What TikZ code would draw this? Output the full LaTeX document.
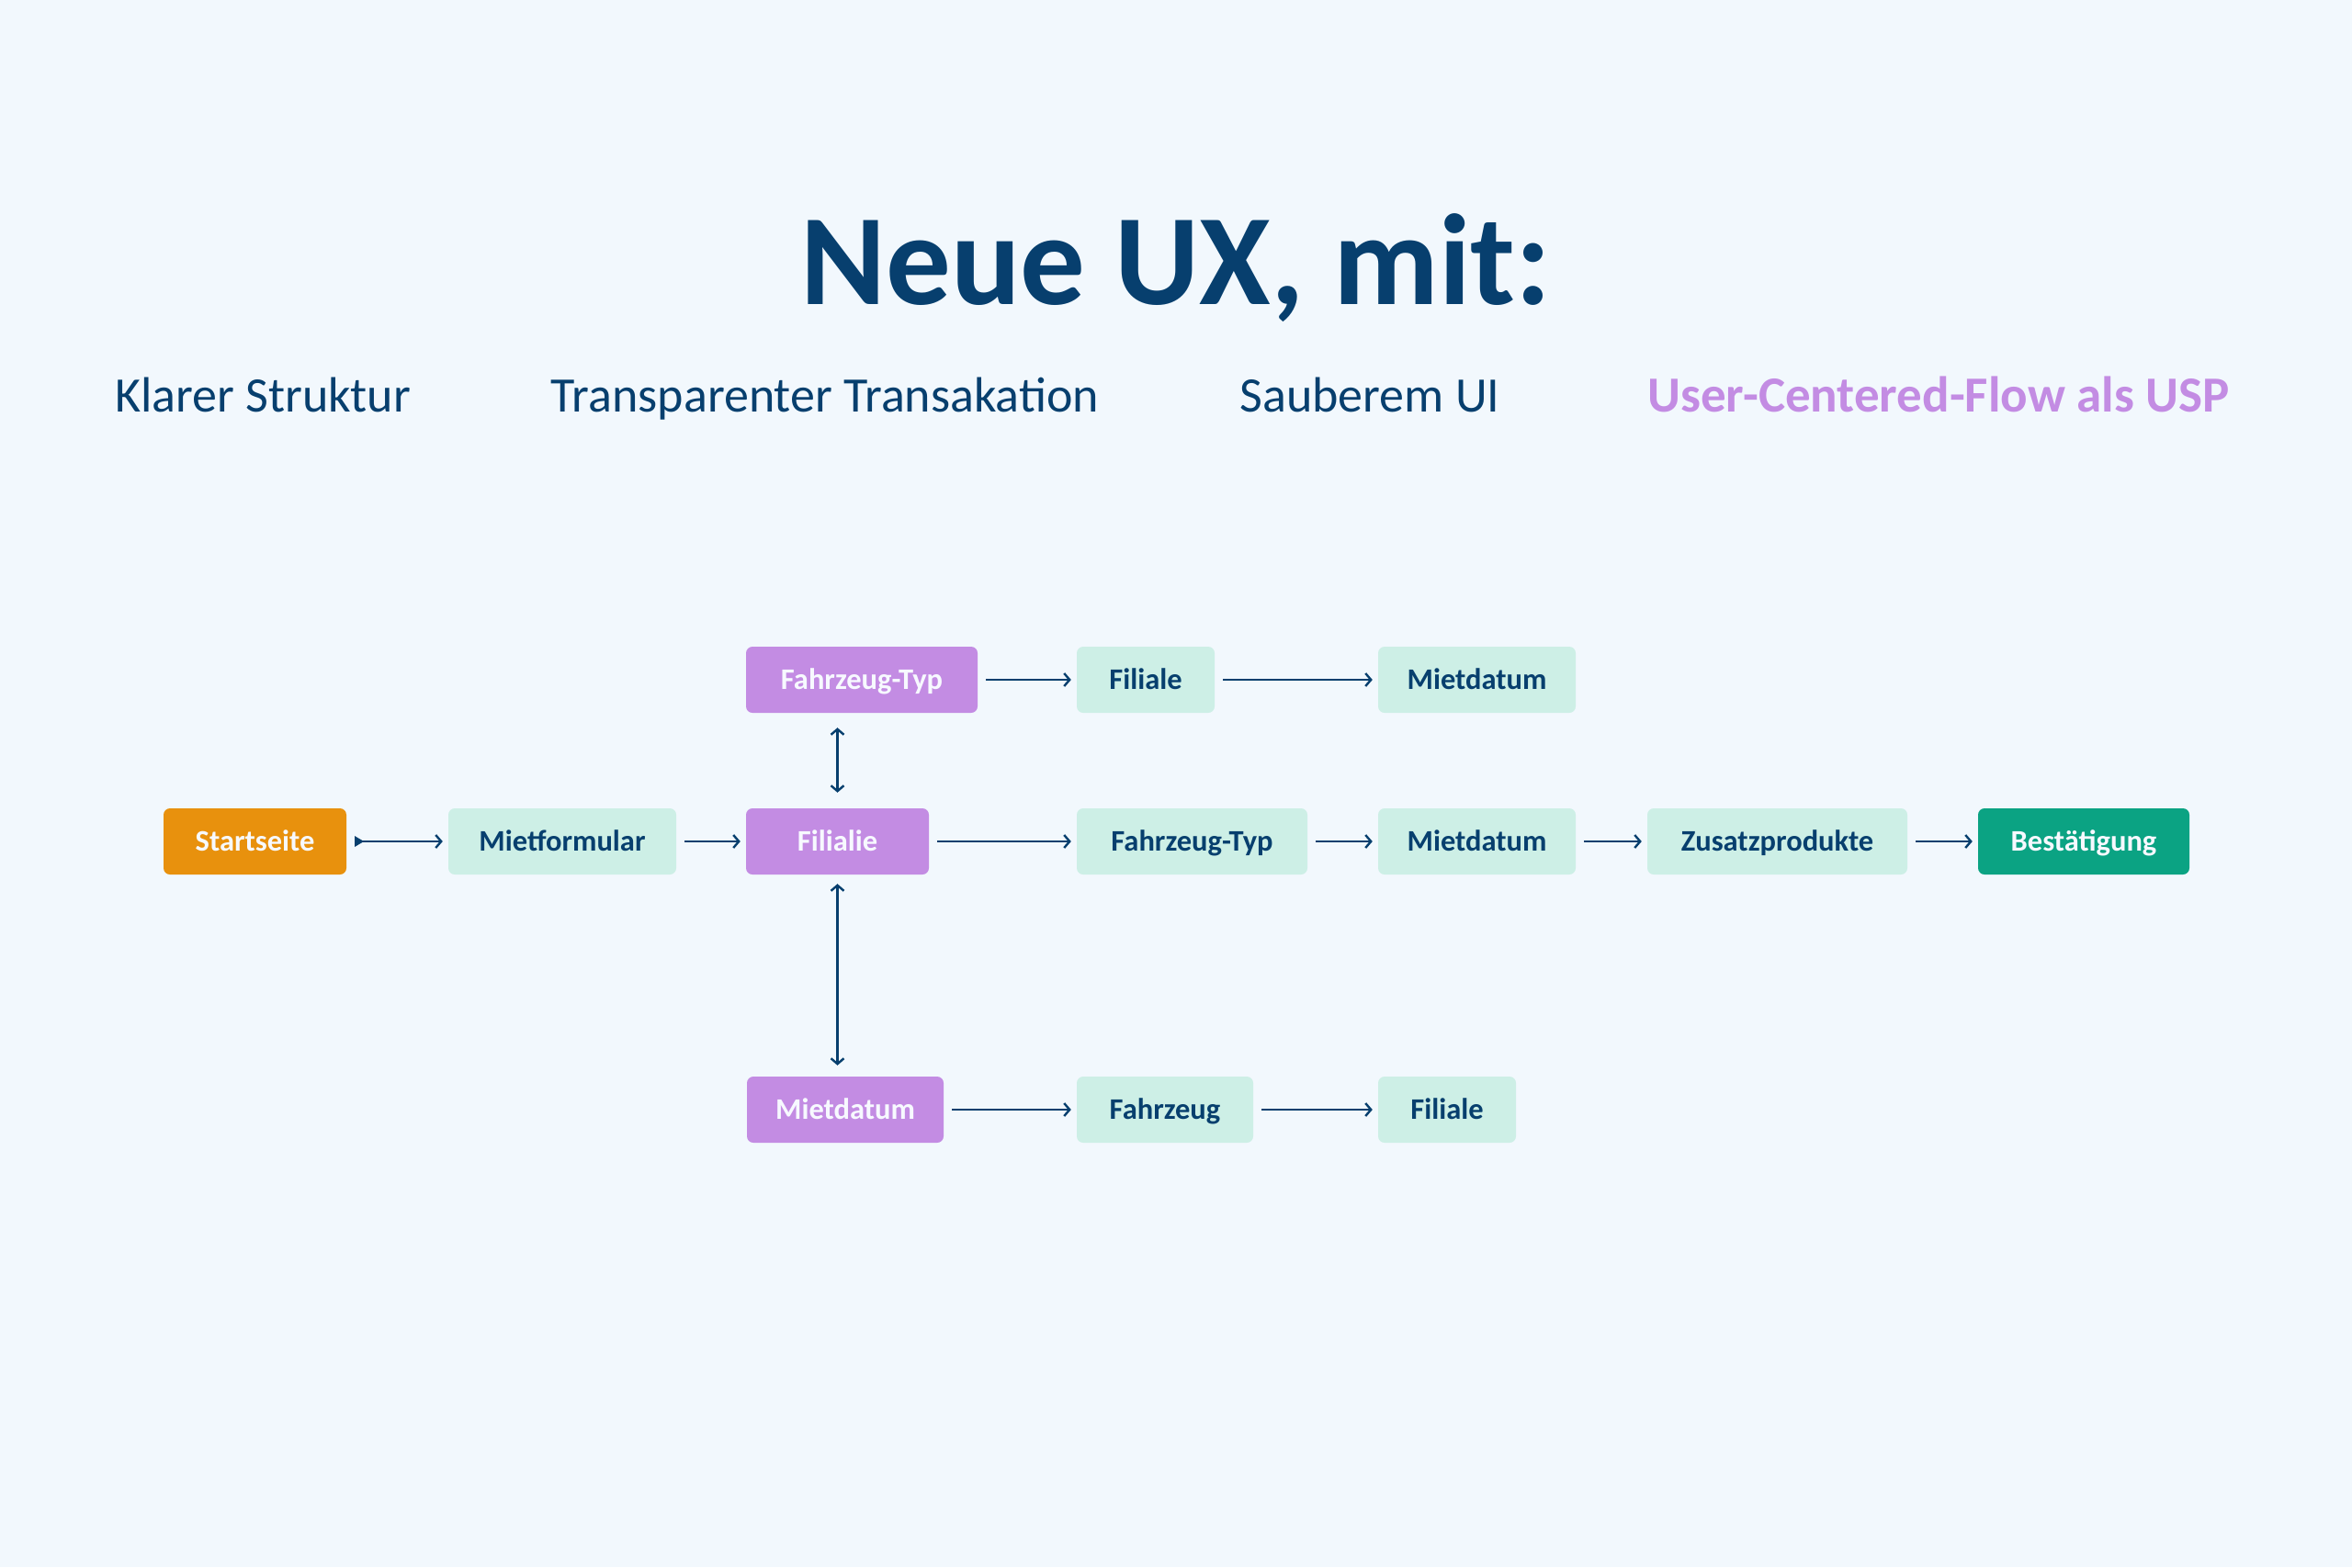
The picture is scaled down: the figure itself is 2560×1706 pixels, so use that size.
\documentclass[tikz,border=0pt]{standalone}
\usepackage{fontspec}
\setmainfont{Carlito}
\usetikzlibrary{arrows.meta}
\definecolor{bgc}{HTML}{F2F8FD}
\definecolor{mint}{HTML}{CDEFE6}
\definecolor{lilac}{HTML}{C38CE3}
\definecolor{amber}{HTML}{E8910D}
\definecolor{teal}{HTML}{0BA383}
\definecolor{navy}{HTML}{073F6E}
\definecolor{offwhite}{HTML}{F7F9FF}
\begin{document}
\begin{tikzpicture}[x=1pt,y=-1pt,
  box/.style={rounded corners=7pt, minimum height=72pt, inner sep=0pt, align=center,
    text height=21pt, text depth=0pt,
    font=\fontsize{32.5}{38}\selectfont\bfseries},
  mintbox/.style={box, fill=mint, text=navy},
  lilacbox/.style={box, fill=lilac, text=offwhite},
  amberbox/.style={box, fill=amber, text=offwhite},
  tealbox/.style={box, fill=teal, text=offwhite},
  flow/.style={draw=navy, line width=2.4pt, -{Straight Barb[length=6pt,width=14pt]},
    shorten <=9pt, shorten >=6pt},
  dflow/.style={draw=navy, line width=2.4pt,
    {Straight Barb[length=6pt,width=14pt]}-{Straight Barb[length=6pt,width=14pt]}},
  sub/.style={anchor=base, text=navy, font=\fontsize{54}{64}\selectfont}
]
\fill[bgc] (0,0) rectangle (2560,1706);
\useasboundingbox (0,0) rectangle (2560,1706);

% title
\node[anchor=base, text=navy, font=\fontsize{141}{160}\selectfont\bfseries] (title) at (1280,331) {Neue UX, mit:};
\node[sub] (s1) at (286,448) {Klarer Struktur};
\node[sub] (s2) at (898,448) {Transparenter Transakation};
\node[sub] (s3) at (1491,448) {Sauberem UI};
\node[sub, text=lilac, font=\fontsize{55}{64}\selectfont\bfseries] (s4) at (2110,448) {User-Centered-Flow als USP};

% middle row
\node[amberbox, minimum width=199pt] (start) at (277.5,916) {Startseite};
\node[mintbox, minimum width=248pt] (mf) at (612,916) {Mietformular};
\node[lilacbox, minimum width=199pt] (fil) at (911.5,916) {Filialie};
\node[mintbox, minimum width=251pt] (ft2) at (1297.5,916) {Fahrzeug-Typ};
\node[mintbox, minimum width=215pt] (md2) at (1607.5,916) {Mietdatum};
\node[mintbox, minimum width=283pt] (zp) at (1934.5,916) {Zusatzprodukte};
\node[tealbox, minimum width=230pt] (best) at (2268,916) {Bestätigung};

% top row
\node[lilacbox, minimum width=252pt] (ft1) at (938,740) {Fahrzeug-Typ};
\node[mintbox, minimum width=150pt] (fi1) at (1247,740) {Filiale};
\node[mintbox, minimum width=215pt] (md1) at (1607.5,740) {Mietdatum};

% bottom row
\node[lilacbox, minimum width=214pt] (md3) at (920,1208) {Mietdatum};
\node[mintbox, minimum width=192pt] (fz3) at (1268,1208) {Fahrzeug};
\node[mintbox, minimum width=150pt] (fi3) at (1575,1208) {Filiale};

% connectors
\draw[flow, {Triangle[reversed,length=10pt,width=11pt]}-{Straight Barb[length=6pt,width=14pt]}] (start) -- (mf);
\draw[flow] (mf) -- (fil);
\draw[flow] (fil) -- (ft2);
\draw[flow] (ft2) -- (md2);
\draw[flow] (md2) -- (zp);
\draw[flow] (zp) -- (best);

\draw[flow] (ft1) -- (fi1);
\draw[flow] (fi1) -- (md1);

\draw[flow] (md3.east) -- (fz3.west);
\draw[flow] (fz3) -- (fi3);

\draw[dflow, shorten <=17pt, shorten >=16pt] (fil.north) -- (fil.north |- ft1.south);
\draw[dflow, shorten <=10pt, shorten >=12pt] (fil.south) -- (fil.south |- md3.north);
\end{tikzpicture}
\end{document}
